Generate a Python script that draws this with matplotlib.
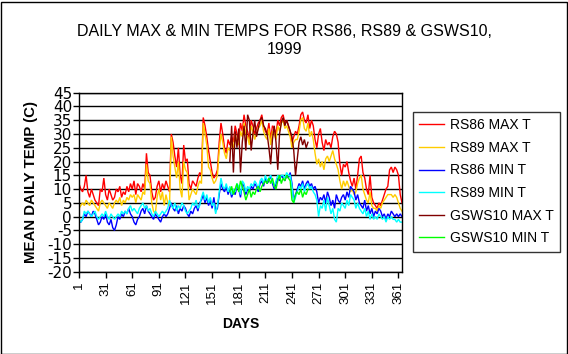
import matplotlib
matplotlib.use("Agg")
import matplotlib.pyplot as plt
from matplotlib.patches import Rectangle
import numpy as np

plt.rcParams['font.family'] = ['Liberation Sans', 'DejaVu Sans']

# Day positions (every other day through the year)
days = list(range(1, 366, 2))
gsws_days = list(range(171, 260, 2))

rs86_max = [12, 10, 9, 11, 15, 9, 7, 10, 8, 6,
            5, 4, 10, 9, 14, 8, 6, 10, 8, 6,
            7, 10, 9, 11, 7, 9, 8, 11, 9, 12,
            10, 13, 8, 12, 11, 9, 12, 10, 23, 16,
            15, 9, 6, 7, 11, 13, 9, 12, 10, 13,
            11, 9, 30, 27, 22, 18, 25, 15, 12, 26,
            20, 21, 12, 10, 13, 12, 11, 14, 16, 15,
            36, 33, 29, 24, 20, 16, 14, 15, 17, 27,
            34, 30, 25, 23, 28, 26, 29, 27, 33, 30,
            28, 34, 31, 37, 33, 31, 28, 35, 33, 30,
            32, 34, 35, 37, 33, 31, 30, 34, 28, 33,
            32, 30, 35, 33, 36, 37, 34, 35, 33, 31,
            27, 29, 31, 30, 33, 37, 38, 35, 34, 37,
            32, 35, 33, 28, 25, 30, 32, 27, 24, 28,
            26, 27, 25, 29, 31, 30, 27, 19, 15, 19,
            18, 20, 16, 13, 11, 14, 10, 15, 21, 22,
            16, 14, 10, 8, 15, 7, 5, 4, 3, 5,
            4, 6, 8, 10, 11, 17, 18, 16, 18, 17,
            15, 8, 5]

rs89_max = [3, 4, 5, 4, 6, 5, 4, 6, 5, 4,
            3, 2, 5, 6, 5, 4, 3, 5, 4, 3,
            5, 6, 5, 7, 4, 6, 5, 7, 6, 8,
            7, 8, 5, 8, 7, 6, 9, 8, 19, 13,
            12, 5, 2, 1, 7, 10, 6, 9, 4, 8,
            5, 4, 29, 22, 18, 14, 20, 10, 7, 20,
            17, 16, 6, 8, 10, 9, 8, 11, 13, 12,
            34, 30, 26, 18, 17, 14, 12, 13, 15, 24,
            30, 27, 23, 21, 25, 24, 27, 25, 30, 27,
            26, 31, 29, 34, 30, 29, 26, 33, 31, 28,
            30, 32, 33, 35, 31, 29, 28, 32, 26, 31,
            30, 28, 33, 31, 34, 35, 32, 33, 31, 29,
            25, 27, 28, 28, 31, 35, 36, 32, 31, 34,
            29, 31, 28, 23, 19, 21, 18, 20, 17, 21,
            22, 20, 22, 24, 21, 19, 17, 13, 10, 13,
            11, 13, 11, 9, 10, 8, 9, 12, 14, 15,
            10, 8, 6, 5, 9, 4, 3, 3, 2, 4,
            3, 5, 6, 7, 8, 8, 8, 7, 8, 7,
            5, 3, 2]

rs86_min = [-2, -2, -1, 1, 0, 2, 1, 0, 2, 1,
            -1, -3, -2, 0, -1, 1, -2, -3, -1, -4,
            -5, -3, 0, -1, 1, 0, 2, 1, 3, 1,
            0, -2, -3, -1, 0, 2, 3, 1, 4, 2,
            1, 0, -1, 1, 0, -1, -2, 0, 1, 0,
            1, 3, 5, 3, 2, 4, 1, 3, 2, 4,
            3, 1, 0, 2, 1, 3, 4, 2, 5, 6,
            8, 5, 7, 4, 6, 3, 7, 2, 3, 8,
            12, 10, 9, 11, 8, 10, 7, 9, 8, 11,
            10, 7, 12, 11, 8, 10, 9, 11, 10, 12,
            11, 9, 12, 13, 11, 14, 12, 13, 15, 12,
            10, 12, 14, 13, 15, 14, 13, 15, 14, 16,
            12, 6, 8, 10, 12, 11, 13, 10, 12, 13,
            11, 12, 10, 11, 9, 5, 7, 6, 8, 5,
            9, 7, 4, 6, 3, 8, 6, 5, 7, 8,
            6, 9, 7, 11, 10, 9, 6, 8, 5, 4,
            3, 6, 2, 4, 1, 3, 0, 2, 1, 3,
            2, 0, 1, -1, 1, 0, 2, 1, 0, 1,
            0, 1, 0]

rs89_min = [-1, -2, -1, 2, 1, 2, 1, 0, 1, 2,
            0, -1, 0, 1, 0, 2, 0, -1, 1, 0,
            -1, 0, 1, 0, 2, 1, 2, 1, 3, 4,
            2, 3, 2, 1, 3, 4, 5, 3, 4, 2,
            3, 1, 0, 2, 1, 0, 1, 2, 1, 2,
            3, 6, 4, 3, 5, 2, 4, 3, 5, 4,
            2, 1, 2, 3, 5, 4, 6, 3, 4, 7,
            9, 6, 8, 5, 7, 4, 5, 1, 4, 9,
            14, 11, 10, 12, 9, 11, 8, 10, 9, 12,
            11, 8, 13, 12, 9, 11, 10, 12, 11, 13,
            12, 10, 13, 14, 12, 15, 13, 14, 15, 13,
            11, 13, 15, 14, 15, 15, 14, 16, 15, 15,
            11, 5, 7, 9, 11, 10, 12, 9, 11, 12,
            10, 11, 9, 8, 6, 0, 4, 3, 6, 2,
            7, 4, 1, 3, -1, -2, 3, 2, 5, 4,
            3, 6, 4, 8, 7, 6, 3, 5, 3, 2,
            1, 3, 0, 2, -1, 1, -1, 0, -1, 1,
            0, -1, 0, -2, 0, -1, 0, -1, -1, -2,
            -1, -2, -2]

gsws10_max = [20, 33, 16, 31, 25, 32, 16, 27, 33, 24,
              37, 35, 24, 30, 35, 29, 32, 35, 36, 33,
              32, 30, 25, 19, 28, 33, 27, 17, 30, 34,
              36, 33, 35, 33, 31, 29, 24, 15, 21, 27,
              29, 26, 28, 25, 27]

gsws10_min = [9, 11, 8, 10, 12, 9, 13, 11, 9, 6,
              8, 10, 7, 9, 8, 10, 11, 9, 11, 12,
              13, 12, 14, 12, 14, 11, 10, 13, 15, 12,
              14, 13, 15, 14, 13, 6, 5, 8, 9, 8,
              10, 7, 9, 8, 10]

series_names = ["RS86 MAX T", "RS89 MAX T", "RS86 MIN T", "RS89 MIN T",
                "GSWS10 MAX T", "GSWS10 MIN T"]
series_colors = ["#FF0000", "#FFCC00", "#0000FF", "#00FFFF", "#800000", "#00FF00"]

x_ticks = list(range(1, 366, 30))
y_ticks = list(range(-20, 46, 5))

W, H = 568, 354
fig = plt.figure(figsize=(W / 100, H / 100), dpi=100)
fig.patch.set_facecolor("white")

L, R, T, B = 79, 402, 92.7, 271.7
ax = fig.add_axes([L / W, 1 - B / H, (R - L) / W, (B - T) / H])

data = [(days, rs86_max), (days, rs89_max), (days, rs86_min), (days, rs89_min),
        (gsws_days, gsws10_max), (gsws_days, gsws10_min)]
handles = []
for (xd, yd), name, col in zip(data, series_names, series_colors):
    h, = ax.plot(xd, yd, color=col, lw=1.0, label=name, solid_joinstyle="miter")
    handles.append(h)

ax.set_xlim(1, 365)
ax.set_ylim(-20, 45)
ax.set_yticks(y_ticks)
ax.set_yticklabels([str(v) for v in y_ticks], fontsize=11, family="DejaVu Sans")
ax.set_xticks(x_ticks)
ax.set_xticklabels([str(v) for v in x_ticks], rotation=90, fontsize=9.5)
ax.tick_params(axis="both", direction="out", length=4, width=1, color="black", pad=3)
ax.tick_params(axis="y", pad=1)
ax.yaxis.grid(True, color="black", lw=1.0)
ax.set_axisbelow(True)
for s in ax.spines.values():
    s.set_color("black")
    s.set_linewidth(1.0)

ax.set_xlabel("DAYS", fontsize=10, fontweight="bold")
ax.xaxis.set_label_coords(0.5, -(324 - B) / (B - T), transform=ax.transAxes)
ax.xaxis.label.set_va("center")
ax.set_ylabel("MEAN DAILY TEMP (C)", fontsize=10.8, fontweight="bold")
ax.yaxis.set_label_coords(-(L - 30.5) / (R - L), 0.5, transform=ax.transAxes)
ax.yaxis.label.set_va("center")

fig.text(284 / W, 1 - 31 / H, "DAILY MAX & MIN TEMPS FOR RS86, RS89 & GSWS10,",
         ha="center", va="center", fontsize=11.5)
fig.text(284 / W, 1 - 50 / H, "1999", ha="center", va="center", fontsize=11.5)

leg = fig.legend(handles=handles, labels=series_names, loc="upper left",
                 bbox_to_anchor=(413 / W, 1 - 112 / H), frameon=True, fancybox=False,
                 edgecolor="black", fontsize=10, handlelength=1.75, handletextpad=0.45,
                 labelspacing=0.62, borderpad=0.45, borderaxespad=0)
leg.get_frame().set_linewidth(1.0)

fig.patches.append(Rectangle((0.5 / W, 0.5 / H), (W - 2) / W, (H - 2) / H,
                             transform=fig.transFigure, fill=False,
                             edgecolor="black", lw=1.0))

fig.savefig("out.png", dpi=100, facecolor="white")
